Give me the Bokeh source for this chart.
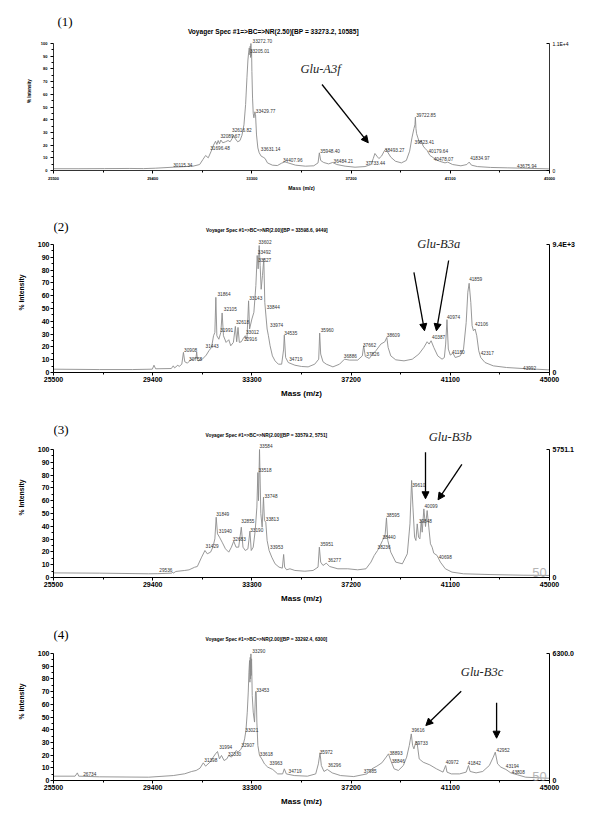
from bokeh.plotting import figure
from bokeh.models import (Range1d, FixedTicker, LinearAxis, ColumnDataSource,
                          LabelSet, Label, Arrow, NormalHead)
from bokeh.layouts import column
from bokeh.core.properties import value
from bokeh.embed import file_html
from bokeh.resources import INLINE

# ---------------- axis ticks ----------------
X_TICKS = [25500, 29400, 33300, 37200, 41100, 45000]
X_MINOR = [27450, 31350, 35250, 39150, 43050]
Y_TICKS = [0, 10, 20, 30, 40, 50, 60, 70, 80, 90, 100]
Y_MINOR = [5, 15, 25, 35, 45, 55, 65, 75, 85, 95]

# ---------------- panel (1) ----------------
p1_mass = [25500, 26500, 27500, 28500, 29036, 29500, 30206, 30600, 30986, 31246, 31376, 31480,
           31584, 31700, 31792, 31870, 31922, 31974, 32026, 32078, 32156, 32260, 32364, 32442,
           32520, 32572, 32650, 32741, 32832, 32910, 32988, 33053, 33105, 33144, 33170, 33196,
           33222, 33235, 33248, 33261, 33274, 33287, 33300, 33326, 33352, 33378, 33417, 33443,
           33482, 33534, 33586, 33664, 33742, 33820, 33911, 34106, 34301, 34470, 34600, 34756,
           35016, 35406, 35731, 35900, 35952, 36004, 36121, 36316, 36472, 36641, 36966, 37356,
           37746, 37980, 38071, 38136, 38214, 38292, 38396, 38500, 38565, 38630, 38760, 38942,
           39176, 39371, 39501, 39592, 39670, 39710, 39728, 39750, 39774, 39826, 39891, 39956,
           40034, 40112, 40190, 40294, 40476, 40671, 40892, 40996, 41191, 41516, 41750, 41841,
           41932, 42166, 42686, 43336, 43986, 44961, 45000]
p1_int = [1.4, 1.4, 1.5, 1.6, 1.5, 1.8, 2.6, 3.0, 3.4, 4.7, 8.7, 11.8,
          10.0, 15.2, 20.0, 23.0, 20.5, 23.6, 21.0, 24.0, 21.8, 22.6, 23.6, 22.6,
          25.0, 28.0, 25.0, 22.6, 23.6, 27.8, 36.0, 52.0, 73.0, 87.0, 92.6, 96.5,
          91.0, 98.0, 89.0, 100.0, 90.0, 95.0, 78.0, 57.0, 45.0, 41.5, 46.2, 44.0,
          28.0, 17.8, 14.0, 11.3, 10.5, 9.4, 6.0, 4.2, 3.9, 5.8, 6.8, 5.8,
          4.2, 3.4, 3.7, 6.0, 13.9, 7.9, 6.3, 5.2, 6.3, 4.7, 3.4, 2.6,
          3.1, 4.7, 9.4, 13.4, 11.3, 9.4, 11.3, 15.2, 17.0, 14.7, 10.5, 7.3,
          6.0, 7.9, 15.2, 25.7, 33.0, 36.0, 42.0, 33.0, 29.0, 25.7, 21.8, 23.6,
          19.2, 17.3, 15.7, 12.0, 9.4, 7.3, 6.0, 6.6, 4.7, 3.7, 4.7, 6.6,
          4.2, 3.1, 2.4, 2.1, 1.8, 1.3, 1.3]
p1_lbl = ["30115.34", "31696.48", "32089.67", "32616.82", "33272.70", "33205.01", "33429.77",
          "33631.14", "34407.96", "35948.40", "36484.21", "37733.44", "38493.27", "39722.85",
          "39823.41", "40179.64", "40478.07", "41834.97", "43675.94"]
p1_lbl_x = [30206, 31662, 32065, 32520, 33326, 33222, 33456, 33651, 34522, 35991, 36511, 37772,
            38526, 39761, 39696, 40242, 40450, 41880, 43726]
p1_lbl_y = [4.2, 17.8, 27.0, 32.0, 102.0, 94.0, 47.0, 17.3, 8.4, 15.7, 7.3, 5.8,
            16.3, 44.0, 22.6, 15.2, 8.7, 10.0, 3.4]

# ---------------- panel (2) ----------------
p2_mass = [25500, 27300, 28600, 29385, 29450, 29514, 30132, 30209, 30260, 30389, 30440, 30544,
           30609, 30661, 30765, 30895, 31000, 31100, 31129, 31160, 31194, 31350, 31506, 31610,
           31714, 31792, 31844, 31883, 31922, 32000, 32078, 32130, 32182, 32286, 32390, 32468,
           32572, 32650, 32702, 32754, 32806, 32884, 32962, 33040, 33105, 33170, 33209, 33300,
           33378, 33456, 33508, 33547, 33586, 33625, 33664, 33716, 33768, 33807, 33846, 33898,
           33950, 34015, 34106, 34210, 34340, 34470, 34548, 34574, 34626, 34730, 34990, 35250,
           35510, 35770, 35926, 35965, 36004, 36095, 36225, 36485, 36745, 36940, 37135, 37460,
           37642, 37694, 37759, 37915, 38045, 38175, 38370, 38526, 38604, 38656, 38760, 38955,
           39280, 39605, 39865, 40060, 40190, 40268, 40346, 40450, 40606, 40775, 40866, 40918,
           40970, 41022, 41100, 41204, 41295, 41490, 41620, 41724, 41789, 41841, 41906, 41958,
           42010, 42075, 42140, 42218, 42296, 42465, 42790, 43310, 43960, 44480, 44935, 45000]
p2_int = [2.6, 2.3, 2.3, 2.6, 5.7, 2.9, 3.1, 5.2, 3.6, 5.7, 4.7, 6.5,
          15.7, 8.4, 7.3, 9.9, 10.5, 11.0, 16.0, 10.0, 9.1, 10.4, 13.6, 17.0,
          19.6, 28.7, 31.3, 58.7, 28.7, 26.0, 31.3, 46.5, 28.7, 23.5, 25.6, 20.9,
          23.5, 36.0, 24.0, 35.2, 23.5, 24.0, 26.6, 28.7, 26.0, 56.0, 34.0, 41.8,
          47.0, 68.0, 91.4, 81.0, 99.2, 83.6, 65.0, 75.7, 89.0, 54.8, 45.7, 34.0,
          28.7, 20.9, 13.0, 9.1, 6.5, 6.5, 18.3, 29.2, 11.7, 7.8, 5.7, 4.7,
          4.4, 6.5, 10.4, 30.8, 14.4, 8.4, 6.5, 4.4, 6.5, 10.4, 9.7, 9.7,
          13.0, 20.9, 12.5, 11.0, 14.4, 17.0, 22.2, 24.0, 27.4, 19.6, 13.0, 9.9,
          9.1, 10.4, 14.4, 19.6, 24.0, 22.2, 24.8, 19.6, 13.0, 10.4, 11.7, 22.2,
          41.3, 18.3, 13.6, 15.1, 11.7, 13.0, 18.3, 39.0, 62.7, 69.7, 54.8, 36.6,
          32.6, 34.0, 28.7, 17.0, 11.7, 7.8, 5.2, 3.9, 3.1, 2.6, 2.1, 2.1]
p2_lbl = ["30908", "30758", "31443", "31864", "32105", "31991", "32618", "33012", "32916",
          "33143", "33602", "33492", "33527", "33844", "33974", "34535", "34719", "35960",
          "36886", "37662", "37826", "38609", "40387", "40974", "41180", "41859", "42106",
          "42317", "43992"]
p2_lbl_x = [30635, 30830, 31480, 31948, 32195, 32052, 32676, 33066, 32988, 33196, 33560, 33534,
            33547, 33885, 34015, 34574, 34769, 36004, 36914, 37668, 37798, 38604, 40385, 40970,
            41165, 41841, 42075, 42296, 43960]
p2_lbl_y = [17.5, 10.4, 20.4, 61.4, 50.0, 33.4, 39.7, 31.3, 26.0, 58.2, 102.0, 94.0,
            88.0, 51.0, 37.0, 30.8, 10.2, 33.4, 13.0, 21.4, 14.1, 29.5, 28.0, 43.0,
            15.7, 73.0, 37.9, 14.9, 3.9]

# ---------------- panel (3) ----------------
p3_mass = [25500, 27300, 29240, 29600, 30150, 30180, 30210, 30310, 30660, 30830, 31047, 31155,
           31324, 31454, 31545, 31675, 31766, 31844, 31896, 31948, 32026, 32130, 32260, 32390,
           32494, 32585, 32676, 32780, 32884, 32949, 33040, 33144, 33222, 33274, 33352, 33430,
           33495, 33534, 33560, 33600, 33651, 33703, 33755, 33794, 33846, 33898, 33976, 34080,
           34210, 34366, 34496, 34548, 34587, 34665, 34795, 34990, 35380, 35705, 35900, 35952,
           36004, 36095, 36225, 36355, 36680, 37070, 37460, 37785, 37980, 38110, 38240, 38344,
           38435, 38539, 38591, 38643, 38760, 38955, 39215, 39410, 39514, 39579, 39631, 39696,
           39748, 39800, 39852, 39904, 39956, 39995, 40060, 40125, 40190, 40255, 40320, 40385,
           40450, 40580, 40710, 40905, 41165, 41620, 42660, 43960, 45000]
p3_int = [3.6, 3.4, 2.9, 3.0, 3.4, 4.2, 3.4, 4.7, 5.5, 6.0, 8.0, 8.6,
          15.9, 21.1, 18.5, 19.8, 23.7, 30.2, 47.1, 34.1, 31.5, 27.6, 22.4, 19.8,
          23.7, 28.4, 23.7, 23.7, 39.3, 23.7, 21.1, 22.4, 36.2, 21.1, 23.7, 36.7,
          55.0, 82.0, 60.0, 100.0, 50.0, 39.3, 62.8, 44.5, 43.2, 28.9, 21.1, 15.9,
          10.7, 8.1, 7.3, 18.0, 8.1, 6.0, 6.8, 5.5, 4.9, 5.5, 8.1, 23.7,
          12.0, 9.4, 11.2, 8.6, 6.8, 6.8, 6.0, 6.8, 12.0, 17.2, 21.1, 25.0,
          28.9, 33.6, 46.6, 28.9, 19.8, 12.0, 10.7, 18.5, 41.9, 75.8, 55.0, 31.5,
          28.9, 41.9, 31.5, 30.2, 44.5, 35.4, 53.6, 39.8, 52.3, 39.3, 26.3, 23.7,
          19.0, 17.2, 12.0, 6.8, 4.2, 2.9, 2.3, 1.8, 1.6]
p3_lbl = ["29536", "31429", "31849", "31940", "32683", "32855", "33190", "33584", "33518",
          "33748", "33813", "33953", "35951", "36277", "38236", "38440", "38595", "39610",
          "40099", "39848", "40698"]
p3_lbl_x = [29660, 31480, 31896, 32000, 32546, 32884, 33235, 33599, 33560, 33794, 33846, 34015,
            35991, 36290, 38240, 38435, 38591, 39605, 40086, 39865, 40645]
p3_lbl_y = [6.0, 25.0, 49.7, 36.7, 29.7, 44.5, 37.2, 102.6, 83.6, 64.0, 45.8, 24.2,
            26.3, 14.0, 24.2, 32.0, 49.2, 72.4, 56.2, 44.5, 16.4]

# ---------------- panel (4) ----------------
p4_mass = [25500, 26349, 26438, 26492, 27314, 29244, 30209, 30660, 30934, 31109, 31259, 31389,
           31480, 31649, 31779, 31870, 31948, 32026, 32104, 32208, 32312, 32390, 32494, 32598,
           32689, 32754, 32858, 32949, 33014, 33066, 33118, 33157, 33183, 33209, 33222, 33235,
           33248, 33261, 33274, 33287, 33313, 33352, 33404, 33443, 33469, 33495, 33534, 33599,
           33690, 33794, 33924, 34119, 34314, 34509, 34574, 34652, 34964, 35484, 35809, 35913,
           35978, 36030, 36134, 36264, 36459, 36784, 37304, 37824, 38019, 38214, 38409, 38578,
           38669, 38760, 38890, 39059, 39254, 39384, 39488, 39566, 39618, 39670, 39748, 39800,
           39878, 40034, 40294, 40554, 40814, 40918, 40970, 41139, 41464, 41724, 41815, 41880,
           42114, 42374, 42634, 42790, 42868, 42959, 43089, 43284, 43479, 43739, 44064, 44909,
           45000]
p4_int = [3.4, 3.4, 6.0, 3.4, 2.9, 2.6, 3.9, 5.3, 7.1, 7.9, 9.7, 13.9,
          11.3, 14.4, 18.4, 21.0, 22.8, 17.0, 19.7, 15.7, 17.0, 19.7, 18.4, 21.0,
          23.6, 22.3, 24.4, 27.6, 32.8, 39.4, 53.8, 69.6, 85.3, 94.5, 77.4, 97.0,
          80.0, 99.7, 82.7, 95.8, 67.0, 53.8, 46.0, 70.0, 69.6, 46.0, 27.6, 19.7,
          17.0, 13.1, 10.5, 8.7, 5.2, 5.2, 9.2, 5.2, 3.9, 3.4, 5.2, 13.1,
          21.8, 11.8, 7.1, 8.7, 6.0, 3.9, 3.1, 5.2, 9.2, 11.3, 13.9, 18.4,
          21.0, 15.7, 9.2, 7.9, 11.8, 18.4, 27.6, 36.7, 27.6, 24.9, 30.7, 28.9,
          17.0, 14.4, 12.3, 9.2, 6.6, 11.8, 6.6, 5.2, 5.2, 6.6, 11.8, 7.1,
          6.0, 7.1, 11.8, 18.4, 22.3, 13.1, 10.5, 8.7, 6.0, 4.5, 2.6, 1.8,
          1.8]
p4_lbl = ["26734", "31398", "31994", "32330", "32907", "33021", "33290", "33453", "33618",
          "33963", "34719", "35972", "36296", "37985", "38893", "38846", "39616", "39733",
          "40972", "41842", "42952", "43194", "43808"]
p4_lbl_x = [26670, 31428, 32013, 32364, 32884, 33040, 33313, 33469, 33612, 33989, 34743, 35965,
            36290, 37694, 38708, 38799, 39579, 39709, 40918, 41789, 42920, 43284, 43518]
p4_lbl_y = [5.3, 16.3, 26.2, 20.5, 28.3, 39.6, 101.8, 70.9, 21.0, 13.9, 7.6, 22.3,
            12.3, 7.6, 21.8, 15.0, 39.4, 29.7, 14.4, 13.9, 24.1, 11.8, 6.6]

# ---------------- texts ----------------
titles = ["Voyager Spec #1=>BC=>NR(2.50)[BP = 33273.2, 10585]",
          "Voyager Spec #1=>BC=>NR(2.00)[BP = 33598.6, 9449]",
          "Voyager Spec #1=>BC=>NR(2.00)[BP = 33579.2, 5751]",
          "Voyager Spec #1=>BC=>NR(2.00)[BP = 33292.4, 6300]"]
panel_nums = ["(1)", "(2)", "(3)", "(4)"]
right_tops = ["1.1E+4", "9.4E+3", "5751.1", "6300.0"]
glu_names = ["Glu-A3f", "Glu-B3a", "Glu-B3b", "Glu-B3c"]

# annotation placement (data units: mass, % intensity)
num_pos = [(25655, 117.5), (25500, 114.0), (25500, 115.6), (25500, 115.0)]
title_pos = [(34142, 109.7), (33891, 111.0), (33871, 111.0), (33871, 110.8)]
glu_pos = [(36000, 80.0), (40642, 100.5), (41102, 109.4), (42348, 85.3)]
arrows = [
    [(36056, 67.7, 37876, 21.8)],
    [(39670, 78.3, 40086, 32.6), (41035, 87.5, 40554, 32.6)],
    [(40125, 97.9, 40125, 61.5), (41555, 88.3, 40619, 60.7)],
    [(41529, 70.3, 40138, 43.3), (42920, 61.2, 42920, 33.3)],
]
watermark = [None, None, (44325, 0.3), (44325, 0.0)]

# geometry: width, height, border left, right, top, bottom, px per 100 %
geoms = [(592, 200, 49, 41, 11, 30, 127),
         (592, 205, 53, 43, 12, 33, 128),
         (592, 205, 53, 43, 12, 33, 128),
         (592, 212, 53, 43, 12, 42, 127)]

SMALL = dict(tick="4px", xlab="5.2px", ylab="4.5px", title="6.6px", right="5px",
             right_style="normal", tick_std=3, ylab_std=6, xlab_std=2, axis_w=0.8)
BIG = dict(tick="7px", xlab="8px", ylab="6.8px", title="4.8px", right="7px",
           right_style="bold", tick_std=1, ylab_std=10, xlab_std=4, axis_w=1)
styles = [SMALL, BIG, BIG, BIG]

spectra = [(p1_mass, p1_int, p1_lbl, p1_lbl_x, p1_lbl_y),
           (p2_mass, p2_int, p2_lbl, p2_lbl_x, p2_lbl_y),
           (p3_mass, p3_int, p3_lbl, p3_lbl_x, p3_lbl_y),
           (p4_mass, p4_int, p4_lbl, p4_lbl_x, p4_lbl_y)]

FONT = "Liberation Sans"
SERIF = "Liberation Serif"


def style_axis(ax, st):
    ax.axis_line_color = "black"
    ax.axis_line_width = st["axis_w"]
    ax.major_tick_line_color = "black"
    ax.minor_tick_line_color = "black"
    ax.major_tick_out = 3
    ax.major_tick_in = 0
    ax.minor_tick_out = 2
    ax.minor_tick_in = 0
    ax.major_label_text_font = FONT
    ax.major_label_text_font_style = "bold"
    ax.major_label_text_color = "black"
    ax.major_label_text_font_size = st["tick"]
    ax.major_label_standoff = st["tick_std"]
    ax.axis_label_text_font = FONT
    ax.axis_label_text_font_style = "bold"
    ax.axis_label_text_color = "black"


figs = []
for i in range(4):
    mass, inten, lt, lx, ly = spectra[i]
    st = styles[i]
    w, h, bl, br, bt, bb, hf = geoms[i]
    y_top = 100.0 * (h - bt - bb) / hf  # room above 100 % for the header texts
    p = figure(width=w, height=h, x_range=Range1d(25500, 45000), y_range=Range1d(0, y_top),
               output_backend="svg", toolbar_location=None, title=None,
               min_border_left=bl, min_border_right=br, min_border_top=bt, min_border_bottom=bb)
    p.outline_line_color = None
    p.grid.visible = False

    xa = p.xaxis[0]
    xa.ticker = FixedTicker(ticks=X_TICKS, minor_ticks=X_MINOR)
    style_axis(xa, st)
    xa.axis_label = "Mass (m/z)"
    xa.axis_label_text_font_size = st["xlab"]
    xa.axis_label_standoff = st["xlab_std"]

    ya = p.yaxis[0]
    ya.ticker = FixedTicker(ticks=Y_TICKS, minor_ticks=Y_MINOR)
    ya.bounds = (0, 100)
    style_axis(ya, st)
    ya.axis_label = "% Intensity"
    ya.axis_label_text_font_size = st["ylab"]
    ya.axis_label_standoff = st["ylab_std"]

    ra = LinearAxis(ticker=FixedTicker(ticks=[0, 100], minor_ticks=[]),
                    major_label_overrides={0: "0", 100: right_tops[i]}, bounds=(0, 100))
    style_axis(ra, st)
    ra.major_tick_in = 3
    ra.major_tick_out = 0
    ra.minor_tick_out = 0
    ra.major_label_standoff = 3
    ra.major_label_text_font_size = st["right"]
    ra.major_label_text_font_style = st["right_style"]
    p.add_layout(ra, "right")

    p.line(mass, inten, line_color="#8c8c8c", line_width=0.9)

    src = ColumnDataSource(dict(x=lx, y=ly, t=lt))
    p.add_layout(LabelSet(x="x", y="y", text="t", source=src, text_font=value(FONT),
                          text_font_size="4.7px", text_color="#333333",
                          text_baseline="middle", text_align="left"))

    for (x0, y0, x1, y1) in arrows[i]:
        p.add_layout(Arrow(end=NormalHead(size=7, fill_color="black", line_color="black",
                                          line_width=1),
                           x_start=x0, y_start=y0, x_end=x1, y_end=y1,
                           line_color="black", line_width=1.3))

    p.add_layout(Label(x=glu_pos[i][0], y=glu_pos[i][1], text=glu_names[i], text_font=SERIF,
                       text_font_style="italic", text_font_size="12.5px", text_color="#222222",
                       text_align="center", text_baseline="middle"))
    p.add_layout(Label(x=num_pos[i][0], y=num_pos[i][1], text=panel_nums[i], text_font=SERIF,
                       text_font_size="13px", text_color="black",
                       text_align="left", text_baseline="middle"))
    p.add_layout(Label(x=title_pos[i][0], y=title_pos[i][1], text=titles[i], text_font=FONT,
                       text_font_style="bold", text_font_size=st["title"], text_color="black",
                       text_align="center", text_baseline="middle"))
    if watermark[i] is not None:
        p.add_layout(Label(x=watermark[i][0], y=watermark[i][1], text="50", text_font=FONT,
                           text_font_size="13px", text_color="#b5b5b5",
                           text_align="left", text_baseline="bottom"))
    figs.append(p)

layout = column(*figs, spacing=0)
open("out.html", "w").write(file_html(layout, INLINE))
